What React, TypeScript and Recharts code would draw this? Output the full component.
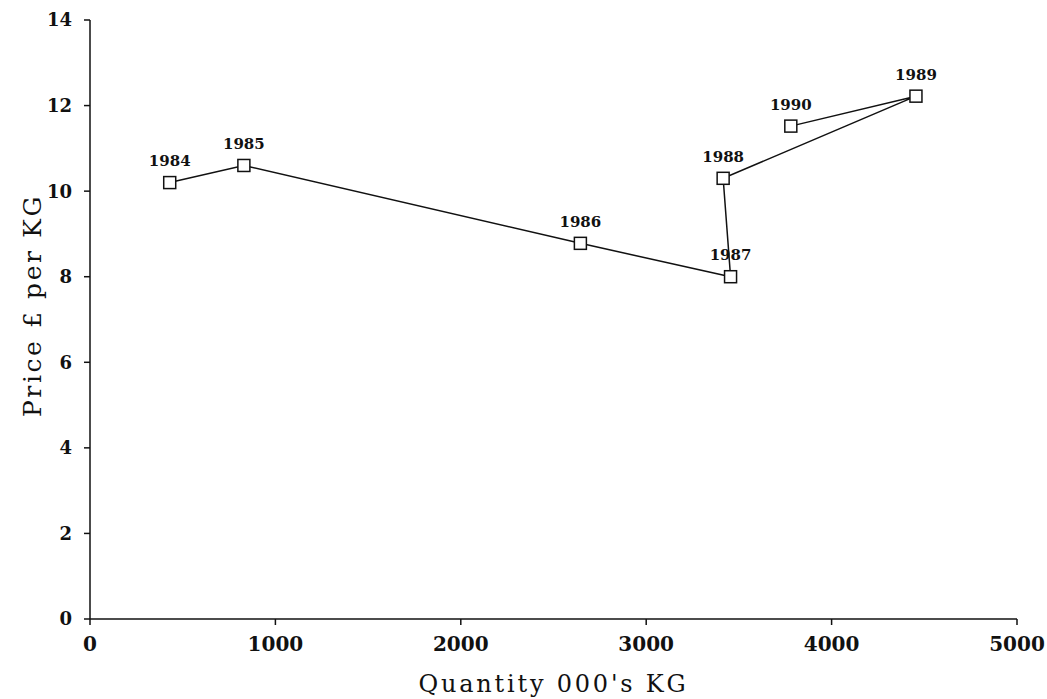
import { ScatterChart, Scatter, XAxis, YAxis, LabelList } from 'recharts';

// Price vs quantity, one point per year, joined in year order
const years = ['1984', '1985', '1986', '1987', '1988', '1989', '1990'];
const quantity = [430, 830, 2645, 3455, 3415, 4455, 3780];
const price = [10.2, 10.6, 8.78, 8.0, 10.3, 12.22, 11.52];

const xTicks = [0, 1000, 2000, 3000, 4000, 5000];
const yTicks = [0, 2, 4, 6, 8, 10, 12, 14];

const data = years.map((year, i) => ({ year, q: quantity[i], p: price[i] }));

const font = '"DejaVu Serif", "Liberation Serif", serif';

const SquareMark = (props: any) => {
  const { cx, cy } = props;
  if (cx == null || cy == null) return null;
  return <rect x={cx - 6} y={cy - 6} width={12} height={12} fill="#fff" stroke="#111" strokeWidth={1.5} />;
};

// rotated y title, sat a little above the middle of the axis like the original
const YTitle = (props: any) => {
  const { viewBox } = props;
  const x = viewBox.x + 32;
  const y = viewBox.y + viewBox.height / 2 - 14;
  return (
    <text
      x={x}
      y={y}
      transform={`rotate(-90 ${x} ${y})`}
      textAnchor="middle"
      dominantBaseline="central"
      style={{ fill: '#111', fontSize: 25, fontFamily: font, letterSpacing: 2.6 }}
    >
      Price £ per KG
    </text>
  );
};

export default function App() {
  return (
    <div style={{ position: 'absolute', left: 0, top: 0, background: '#fff' }}>
      <ScatterChart width={1047} height={699} margin={{ top: 20, right: 30, left: 0, bottom: 0 }}>
        <XAxis
          type="number"
          dataKey="q"
          domain={[0, 5000]}
          ticks={xTicks}
          height={80}
          stroke="#111"
          strokeWidth={1.5}
          tickSize={6}
          tick={{ fill: '#111', fontSize: 20, fontFamily: font, fontWeight: 'bold' }}
          tickMargin={12}
          label={{ value: "Quantity 000's KG", position: 'insideBottom', offset: 7, style: { fill: '#111', fontSize: 24, fontFamily: font, letterSpacing: 2.8 } }}
        />
        <YAxis
          type="number"
          dataKey="p"
          domain={[0, 14]}
          ticks={yTicks}
          width={90}
          stroke="#111"
          strokeWidth={1.5}
          tickSize={6}
          tick={{ fill: '#111', fontSize: 18, fontFamily: font, fontWeight: 'bold' }}
          tickMargin={12}
          label={<YTitle />}
        />
        <Scatter
          data={data}
          line={{ stroke: '#111', strokeWidth: 1.5 }}
          shape={SquareMark}
          isAnimationActive={false}
        >
          <LabelList dataKey="year" position="top" offset={12} style={{ fill: '#111', fontSize: 15, fontFamily: font, fontWeight: 'bold' }} />
        </Scatter>
      </ScatterChart>
    </div>
  );
}
